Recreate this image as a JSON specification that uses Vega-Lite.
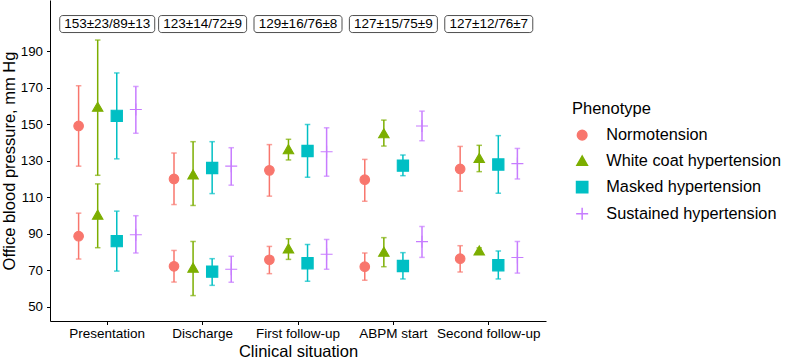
{
  "$schema": "https://vega.github.io/schema/vega-lite/v6.json",
  "autosize": {"type": "none"},
  "padding": {"left": 50, "top": 0, "right": 247, "bottom": 37},
  "width": 496,
  "height": 321,
  "background": "white",
  "config": {
    "font": "Liberation Sans",
    "view": {"stroke": null},
    "axis": {"grid": false, "domainColor": "#000", "tickColor": "#000", "labelColor": "#000", "titleColor": "#000", "titleFontWeight": "normal", "tickSize": 3.5, "domainWidth": 1, "tickWidth": 1}
  },
  "datasets": {
    "bp": [
      {"situation": "Presentation", "phenotype": "Normotension", "measure": "SBP", "mean": 149, "lo": 127, "hi": 171},
      {"situation": "Presentation", "phenotype": "White coat hypertension", "measure": "SBP", "mean": 159.5, "lo": 122, "hi": 196},
      {"situation": "Presentation", "phenotype": "Masked hypertension", "measure": "SBP", "mean": 154.5, "lo": 131, "hi": 178},
      {"situation": "Presentation", "phenotype": "Sustained hypertension", "measure": "SBP", "mean": 158, "lo": 145, "hi": 170.6},
      {"situation": "Presentation", "phenotype": "Normotension", "measure": "DBP", "mean": 88.7, "lo": 76.2, "hi": 101.3},
      {"situation": "Presentation", "phenotype": "White coat hypertension", "measure": "DBP", "mean": 100.5, "lo": 82.4, "hi": 117.3},
      {"situation": "Presentation", "phenotype": "Masked hypertension", "measure": "DBP", "mean": 86, "lo": 69.6, "hi": 102.4},
      {"situation": "Presentation", "phenotype": "Sustained hypertension", "measure": "DBP", "mean": 89.5, "lo": 79.5, "hi": 99.9},
      {"situation": "Discharge", "phenotype": "Normotension", "measure": "SBP", "mean": 120, "lo": 106, "hi": 134.2},
      {"situation": "Discharge", "phenotype": "White coat hypertension", "measure": "SBP", "mean": 122.5, "lo": 105.5, "hi": 140.4},
      {"situation": "Discharge", "phenotype": "Masked hypertension", "measure": "SBP", "mean": 126, "lo": 112, "hi": 140.4},
      {"situation": "Discharge", "phenotype": "Sustained hypertension", "measure": "SBP", "mean": 127, "lo": 116.6, "hi": 137.1},
      {"situation": "Discharge", "phenotype": "Normotension", "measure": "DBP", "mean": 72.2, "lo": 63.6, "hi": 80.9},
      {"situation": "Discharge", "phenotype": "White coat hypertension", "measure": "DBP", "mean": 71.5, "lo": 56.2, "hi": 85.8},
      {"situation": "Discharge", "phenotype": "Masked hypertension", "measure": "DBP", "mean": 69.3, "lo": 61.8, "hi": 76.4},
      {"situation": "Discharge", "phenotype": "Sustained hypertension", "measure": "DBP", "mean": 70.6, "lo": 63.5, "hi": 77.7},
      {"situation": "First follow-up", "phenotype": "Normotension", "measure": "SBP", "mean": 124.7, "lo": 110.6, "hi": 138.8},
      {"situation": "First follow-up", "phenotype": "White coat hypertension", "measure": "SBP", "mean": 136.3, "lo": 130.4, "hi": 141.7},
      {"situation": "First follow-up", "phenotype": "Masked hypertension", "measure": "SBP", "mean": 135.3, "lo": 120.9, "hi": 149.8},
      {"situation": "First follow-up", "phenotype": "Sustained hypertension", "measure": "SBP", "mean": 134.9, "lo": 121.5, "hi": 148},
      {"situation": "First follow-up", "phenotype": "Normotension", "measure": "DBP", "mean": 75.8, "lo": 68.2, "hi": 83.1},
      {"situation": "First follow-up", "phenotype": "White coat hypertension", "measure": "DBP", "mean": 82, "lo": 76, "hi": 87.3},
      {"situation": "First follow-up", "phenotype": "Masked hypertension", "measure": "DBP", "mean": 73.9, "lo": 64, "hi": 84.2},
      {"situation": "First follow-up", "phenotype": "Sustained hypertension", "measure": "DBP", "mean": 78.8, "lo": 70.6, "hi": 86.9},
      {"situation": "ABPM start", "phenotype": "Normotension", "measure": "SBP", "mean": 119.6, "lo": 107.8, "hi": 130.7},
      {"situation": "ABPM start", "phenotype": "White coat hypertension", "measure": "SBP", "mean": 145, "lo": 138, "hi": 152.2},
      {"situation": "ABPM start", "phenotype": "Masked hypertension", "measure": "SBP", "mean": 127.3, "lo": 121.8, "hi": 133.1},
      {"situation": "ABPM start", "phenotype": "Sustained hypertension", "measure": "SBP", "mean": 149, "lo": 140.9, "hi": 157.1},
      {"situation": "ABPM start", "phenotype": "Normotension", "measure": "DBP", "mean": 72, "lo": 64.6, "hi": 79.5},
      {"situation": "ABPM start", "phenotype": "White coat hypertension", "measure": "DBP", "mean": 80.2, "lo": 72, "hi": 87.9},
      {"situation": "ABPM start", "phenotype": "Masked hypertension", "measure": "DBP", "mean": 72.4, "lo": 65.3, "hi": 79.7},
      {"situation": "ABPM start", "phenotype": "Sustained hypertension", "measure": "DBP", "mean": 85.7, "lo": 77.1, "hi": 94},
      {"situation": "Second follow-up", "phenotype": "Normotension", "measure": "SBP", "mean": 125.5, "lo": 113.3, "hi": 137.8},
      {"situation": "Second follow-up", "phenotype": "White coat hypertension", "measure": "SBP", "mean": 131.5, "lo": 124, "hi": 138.4},
      {"situation": "Second follow-up", "phenotype": "Masked hypertension", "measure": "SBP", "mean": 127.9, "lo": 112.2, "hi": 143.7},
      {"situation": "Second follow-up", "phenotype": "Sustained hypertension", "measure": "SBP", "mean": 128.4, "lo": 120, "hi": 136.7},
      {"situation": "Second follow-up", "phenotype": "Normotension", "measure": "DBP", "mean": 76.4, "lo": 69.1, "hi": 83.5},
      {"situation": "Second follow-up", "phenotype": "White coat hypertension", "measure": "DBP", "mean": 80.9, "lo": 79.5, "hi": 82.3},
      {"situation": "Second follow-up", "phenotype": "Masked hypertension", "measure": "DBP", "mean": 72.8, "lo": 65.3, "hi": 80.6},
      {"situation": "Second follow-up", "phenotype": "Sustained hypertension", "measure": "DBP", "mean": 77, "lo": 68.5, "hi": 85.8}
    ],
    "labels": [
      {"situation": "Presentation", "label": "153±23/89±13"},
      {"situation": "Discharge", "label": "123±14/72±9"},
      {"situation": "First follow-up", "label": "129±16/76±8"},
      {"situation": "ABPM start", "label": "127±15/75±9"},
      {"situation": "Second follow-up", "label": "127±12/76±7"}
    ]
  },
  "layer": [
    {
      "data": {"name": "labels"},
      "transform": [{"filter": "datum.situation !== 'Presentation'"}],
      "mark": {"type": "bar", "width": 88, "fill": "white", "stroke": "#222", "strokeWidth": 0.8, "cornerRadius": 3},
      "encoding": {
        "x": {"field": "situation", "type": "nominal", "title": "Clinical situation"},
        "y": {"datum": 209.4, "type": "quantitative", "title": "Office blood pressure, mm Hg"},
        "y2": {"datum": 200.1}
      }
    },
    {
      "data": {"name": "labels"},
      "transform": [{"filter": "datum.situation === 'Presentation'"}],
      "mark": {"type": "bar", "width": 95, "fill": "white", "stroke": "#222", "strokeWidth": 0.8, "cornerRadius": 3},
      "encoding": {
        "x": {"field": "situation", "type": "nominal", "title": "Clinical situation"},
        "y": {"datum": 209.4, "type": "quantitative", "title": "Office blood pressure, mm Hg"},
        "y2": {"datum": 200.1}
      }
    },
    {
      "data": {"name": "labels"},
      "mark": {"type": "text", "fontSize": 13.5, "color": "#000", "baseline": "middle", "align": "center"},
      "encoding": {
        "x": {"field": "situation", "type": "nominal", "title": "Clinical situation"},
        "y": {"datum": 204.8, "type": "quantitative", "title": "Office blood pressure, mm Hg"},
        "text": {"field": "label"}
      }
    },
    {
      "data": {"name": "bp"},
      "mark": {"type": "rule", "strokeWidth": 1.5},
      "encoding": {
        "x": {"field": "situation", "type": "nominal", "title": "Clinical situation"},
        "xOffset": {"field": "phenotype", "type": "nominal", "scale": {"domain": ["Normotension", "White coat hypertension", "Masked hypertension", "Sustained hypertension"], "paddingInner": 0, "paddingOuter": 0.5}},
        "y": {"field": "lo", "type": "quantitative", "title": "Office blood pressure, mm Hg"},
        "y2": {"field": "hi"},
        "stroke": {"field": "phenotype", "type": "nominal", "title": "Phenotype"}
      }
    },
    {
      "data": {"name": "bp"},
      "mark": {"type": "tick", "size": 5.5, "thickness": 1.5, "orient": "horizontal"},
      "encoding": {
        "x": {"field": "situation", "type": "nominal", "title": "Clinical situation"},
        "xOffset": {"field": "phenotype", "type": "nominal"},
        "y": {"field": "lo", "type": "quantitative", "title": "Office blood pressure, mm Hg"},
        "fill": {"field": "phenotype", "type": "nominal", "title": "Phenotype"}
      }
    },
    {
      "data": {"name": "bp"},
      "mark": {"type": "tick", "size": 5.5, "thickness": 1.5, "orient": "horizontal"},
      "encoding": {
        "x": {"field": "situation", "type": "nominal", "title": "Clinical situation"},
        "xOffset": {"field": "phenotype", "type": "nominal"},
        "y": {"field": "hi", "type": "quantitative", "title": "Office blood pressure, mm Hg"},
        "fill": {"field": "phenotype", "type": "nominal", "title": "Phenotype"}
      }
    },
    {
      "data": {"name": "bp"},
      "mark": {"type": "point", "filled": true, "opacity": 1, "strokeWidth": 1.1},
      "encoding": {
        "x": {
          "field": "situation", "type": "nominal", "title": "Clinical situation",
          "scale": {"type": "band", "domain": ["Presentation", "Discharge", "First follow-up", "ABPM start", "Second follow-up"], "paddingInner": 0, "paddingOuter": 0.1},
          "axis": {"labelAngle": 0, "labelAlign": "center", "labelFontSize": 13.5, "titleFontSize": 16.5, "labelPadding": 9, "titlePadding": 3}
        },
        "xOffset": {"field": "phenotype", "type": "nominal"},
        "y": {
          "field": "mean", "type": "quantitative", "title": "Office blood pressure, mm Hg",
          "scale": {"domain": [42.3, 217.9], "nice": false, "zero": false},
          "axis": {"values": [50, 70, 90, 110, 130, 150, 170, 190], "labelFontSize": 13.3, "titleFontSize": 16.5, "labelPadding": 4, "titlePadding": 3}
        },
        "fill": {"field": "phenotype", "type": "nominal", "title": "Phenotype", "scale": {"domain": ["Normotension", "White coat hypertension", "Masked hypertension", "Sustained hypertension"], "range": ["#F8766D", "#7CAE00", "#00BFC4", "#C77CFF"]},
          "legend": {
            "orient": "none", "legendX": 522, "legendY": 100.5, "padding": 0,
            "titleFontSize": 16.5, "titleFontWeight": "normal", "titleColor": "#000", "titlePadding": 10,
            "labelFontSize": 16.3, "labelColor": "#000", "labelOffset": 16, "labelLimit": 400, "rowPadding": 8.5, "symbolOffset": 2
          }
        },
        "stroke": {"field": "phenotype", "type": "nominal", "title": "Phenotype", "scale": {"domain": ["Normotension", "White coat hypertension", "Masked hypertension", "Sustained hypertension"], "range": ["#F8766D", "#7CAE00", "#00BFC4", "#C77CFF"]}},
        "shape": {"field": "phenotype", "type": "nominal", "title": "Phenotype", "scale": {"domain": ["Normotension", "White coat hypertension", "Masked hypertension", "Sustained hypertension"], "range": ["circle", "triangle-up", "square", "M-1,0H1M0,-1V1"]}},
        "size": {"field": "phenotype", "type": "nominal", "title": "Phenotype", "scale": {"domain": ["Normotension", "White coat hypertension", "Masked hypertension", "Sustained hypertension"], "range": [92, 144, 92, 256]}}
      }
    }
  ]
}
